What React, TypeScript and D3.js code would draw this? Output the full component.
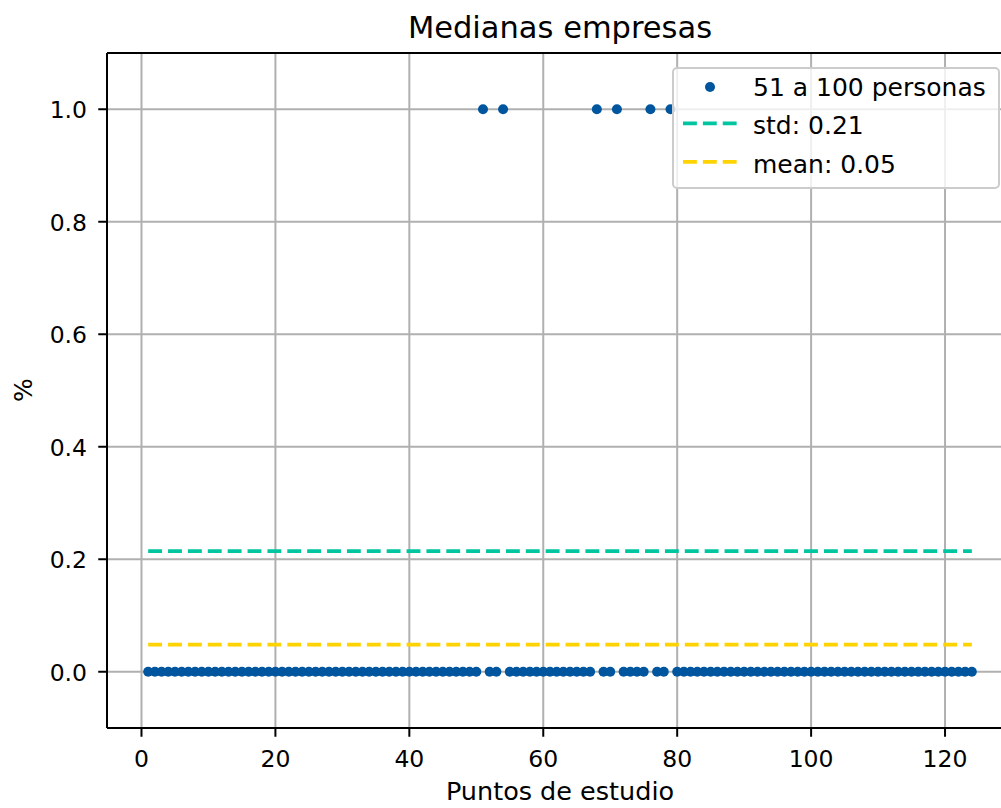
import React from 'react';
import * as d3 from 'd3';

// ---------- data ----------
const studyPoints: number[] = d3.range(1, 125); // x positions 1..124
const companyValues: number[] = [
  0, 0, 0, 0, 0, 0, 0, 0, 0, 0,
  0, 0, 0, 0, 0, 0, 0, 0, 0, 0,
  0, 0, 0, 0, 0, 0, 0, 0, 0, 0,
  0, 0, 0, 0, 0, 0, 0, 0, 0, 0,
  0, 0, 0, 0, 0, 0, 0, 0, 0, 0,
  1, 0, 0, 1, 0, 0, 0, 0, 0, 0,
  0, 0, 0, 0, 0, 0, 0, 1, 0, 0,
  1, 0, 0, 0, 0, 1, 0, 0, 1, 0,
  0, 0, 0, 0, 0, 0, 0, 0, 0, 0,
  0, 0, 0, 0, 0, 0, 0, 0, 0, 0,
  0, 0, 0, 0, 0, 0, 0, 0, 0, 0,
  0, 0, 0, 0, 0, 0, 0, 0, 0, 0,
  0, 0, 0, 0,
];
const xTicks: number[] = [0, 20, 40, 60, 80, 100, 120];
const yTicks: number[] = [0.0, 0.2, 0.4, 0.6, 0.8, 1.0];
const seriesLabel = '51 a 100 personas';
const titleText = 'Medianas empresas';
const xLabel = 'Puntos de estudio';
const yLabel = '%';

// ---------- styles ----------
const W = 1001;
const H = 808;
const L = 107, R = 1013, T = 53, B = 728;
const FONT = 'DejaVu Sans, sans-serif';
const DOT = '#00569e';
const STD_C = '#00c5a1';
const MEAN_C = '#ffd300';
const GRID = '#b0b0b0';

export default function App() {
  const x = d3.scaleLinear().domain([-5.15, 130.15]).range([L, R]);
  const y = d3.scaleLinear().domain([-0.1, 1.1]).range([B, T]);

  const mean = d3.mean(companyValues) as number;
  const std = Math.sqrt(d3.mean(companyValues, (v) => (v - mean) * (v - mean)) as number);
  const x0 = d3.min(studyPoints) as number;
  const x1 = d3.max(studyPoints) as number;

  const lw = 3.75;
  const dash = `${3.7 * lw},${1.6 * lw}`;

  const legendRows = [
    { label: seriesLabel, kind: 'dot', color: DOT },
    { label: `std: ${std.toFixed(2)}`, kind: 'line', color: STD_C },
    { label: `mean: ${mean.toFixed(2)}`, kind: 'line', color: MEAN_C },
  ];
  const legX = 673, legY = 68, legW = 326, legH = 120;
  const rowY0 = 87, rowDy = 38.4;

  return (
    <svg
      width={W}
      height={H}
      style={{ position: 'absolute', left: 0, top: 0, background: '#fff' }}
      fontFamily={FONT}
    >
      <defs>
        <clipPath id="plotclip">
          <rect x={L} y={T} width={R - L} height={B - T} />
        </clipPath>
      </defs>
      <rect x={0} y={0} width={W} height={H} fill="#fff" />

      {/* grid */}
      <g stroke={GRID} strokeWidth={2}>
        {xTicks.map((t) => (
          <line key={'gx' + t} x1={x(t)} x2={x(t)} y1={T} y2={B} />
        ))}
        {yTicks.map((t) => (
          <line key={'gy' + t} x1={L} x2={R} y1={y(t)} y2={y(t)} />
        ))}
      </g>

      {/* data */}
      <g clipPath="url(#plotclip)">
        <line x1={x(x0)} x2={x(x1)} y1={y(std)} y2={y(std)} stroke={STD_C} strokeWidth={lw} strokeDasharray={dash} />
        <line x1={x(x0)} x2={x(x1)} y1={y(mean)} y2={y(mean)} stroke={MEAN_C} strokeWidth={lw} strokeDasharray={dash} />
        {studyPoints.map((p, i) => (
          <circle key={'p' + p} cx={x(p)} cy={y(companyValues[i])} r={5} fill={DOT} />
        ))}
      </g>

      {/* spines */}
      <g stroke="#000" strokeWidth={2} fill="none">
        <line x1={L} x2={L} y1={T} y2={B} />
        <line x1={L} x2={R} y1={T} y2={T} />
        <line x1={L} x2={R} y1={B} y2={B} />
        <line x1={R} x2={R} y1={T} y2={B} />
      </g>

      {/* x ticks */}
      <g>
        {xTicks.map((t) => (
          <g key={'xt' + t}>
            <line x1={x(t)} x2={x(t)} y1={B} y2={B + 8.75} stroke="#000" strokeWidth={2} />
            <text x={x(t)} y={767} textAnchor="middle" fontSize={23.5} fill="#000">
              {t}
            </text>
          </g>
        ))}
      </g>

      {/* y ticks */}
      <g>
        {yTicks.map((t) => (
          <g key={'yt' + t}>
            <line x1={L - 8.75} x2={L} y1={y(t)} y2={y(t)} stroke="#000" strokeWidth={2} />
            <text x={87} y={y(t) + 9} textAnchor="end" fontSize={23.5} fill="#000">
              {d3.format('.1f')(t)}
            </text>
          </g>
        ))}
      </g>

      {/* labels */}
      <text x={(L + R) / 2} y={38} textAnchor="middle" fontSize={30.5} fill="#000">
        {titleText}
      </text>
      <text x={(L + R) / 2} y={800} textAnchor="middle" fontSize={25.5} fill="#000">
        {xLabel}
      </text>
      <text transform={`translate(32,390) rotate(-90)`} textAnchor="middle" fontSize={25} fill="#000">
        {yLabel}
      </text>

      {/* legend */}
      <g>
        <rect x={legX} y={legY} width={legW} height={legH} rx={4} ry={4} fill="#fff" fillOpacity={0.8} stroke="#cccccc" strokeWidth={2} />
        {legendRows.map((r, i) => {
          const cy = rowY0 + i * rowDy;
          return (
            <g key={'lg' + i}>
              {r.kind === 'dot' ? (
                <circle cx={710} cy={cy} r={5} fill={r.color} />
              ) : (
                <line x1={683} x2={737} y1={cy - 2} y2={cy - 2} stroke={r.color} strokeWidth={lw} strokeDasharray={dash} />
              )}
              <text x={753} y={cy + 9} fontSize={25} fill="#000">
                {r.label}
              </text>
            </g>
          );
        })}
      </g>
    </svg>
  );
}
